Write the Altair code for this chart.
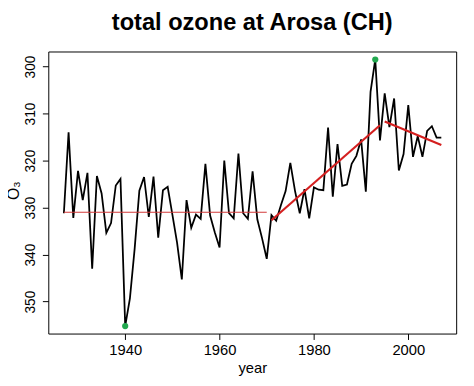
import altair as alt
import pandas as pd

years = list(range(1927, 2008))
ozone = [
    331.2, 314.0, 332.2, 322.2, 328.4, 322.6, 343.0, 323.3, 327.0, 335.4,
    333.3, 325.3, 323.9, 355.2, 349.3, 338.8, 326.4, 323.5, 332.0, 323.4,
    336.4, 326.3, 325.6, 331.5, 337.5, 345.3, 328.4, 334.3, 331.5, 332.4,
    320.7, 331.7, 335.3, 338.5, 320.0, 331.2, 332.3, 318.5, 331.2, 332.4,
    322.3, 332.5, 336.5, 340.9, 331.6, 332.8, 329.5, 326.5, 320.5, 326.5,
    331.2, 326.1, 332.3, 325.7, 326.2, 326.3, 313.0, 327.7, 316.5, 325.4,
    325.1, 320.7, 319.0, 315.5, 326.6, 305.4, 298.5, 315.7, 305.7, 312.9,
    306.8, 322.1, 318.6, 308.2, 319.2, 314.8, 319.2, 313.7, 312.7, 315.1,
    315.1,
]

# reference level (mean up to 1970)
ref_x = [1927]
ref_x2 = [1970]
ref_y = [331.0]

# trend segments
trend_x = [1971, 1995]
trend_x2 = [1994, 2007]
trend_y = [332.7, 311.7]
trend_y2 = [312.5, 316.7]

# extremes
ext_year = [1940, 1993]
ext_val = [355.2, 298.5]

x_ticks = [1940, 1960, 1980, 2000]
y_ticks = [300, 310, 320, 330, 340, 350]

df = pd.DataFrame({"year": years, "o3": ozone})
ref_df = pd.DataFrame({"x": ref_x, "x2": ref_x2, "y": ref_y})
trend_df = pd.DataFrame({"x": trend_x, "x2": trend_x2, "y": trend_y, "y2": trend_y2})
ext_df = pd.DataFrame({"year": ext_year, "o3": ext_val})

xs = alt.Scale(domain=[1923.7, 2010.15], nice=False, zero=False)
ys = alt.Scale(domain=[296.8, 356.8], nice=False, zero=False, reverse=True)

xaxis = alt.Axis(values=x_ticks, title="year", format="d", labelPadding=3,
                 titlePadding=4, labelFontSize=15, titleFontSize=15)
yaxis = alt.Axis(values=y_ticks, title="O₃", labelAngle=270, labelPadding=5,
                 labelFontSize=14, titleFontSize=16,
                 labelAlign="center", labelBaseline="bottom",
                 titleX=-35, titleY=141, titleAngle=270,
                 titleAlign="center", titleBaseline="middle")

line = alt.Chart(df).mark_line(color="black", strokeWidth=1.8).encode(
    x=alt.X("year:Q", scale=xs, axis=xaxis),
    y=alt.Y("o3:Q", scale=ys, axis=yaxis),
)

ref = alt.Chart(ref_df).mark_rule(color="#d23a3a", strokeWidth=1.2).encode(
    x=alt.X("x:Q", scale=xs), x2="x2:Q", y=alt.Y("y:Q", scale=ys)
)

trend = alt.Chart(trend_df).mark_rule(color="#d41f1f", strokeWidth=2.2).encode(
    x=alt.X("x:Q", scale=xs), x2="x2:Q",
    y=alt.Y("y:Q", scale=ys), y2="y2:Q"
)

pts = alt.Chart(ext_df).mark_circle(color="#22a84f", opacity=1, size=40).encode(
    x=alt.X("year:Q", scale=xs), y=alt.Y("o3:Q", scale=ys)
)

chart = alt.layer(line, ref, trend, pts).properties(
    width=415,
    height=287,
    title=alt.TitleParams("total ozone at Arosa (CH)", fontSize=24, fontWeight="bold",
                          font="Liberation Sans", anchor="middle", offset=18,
                          baseline="alphabetic", color="black", dy=20),
    autosize=alt.AutoSizeParams(type="none"),
    padding={"left": 41, "top": 41, "right": 10, "bottom": 45},
).configure_view(
    stroke="black", strokeWidth=1
).configure_axis(
    domain=False, grid=False, ticks=True, tickColor="black", tickSize=6,
    tickWidth=1, labelColor="black", titleColor="black",
    labelFont="Liberation Sans", titleFont="Liberation Sans", titleFontWeight="normal",
)

chart.save("out.html", embed_options={"renderer": "svg", "actions": False})
